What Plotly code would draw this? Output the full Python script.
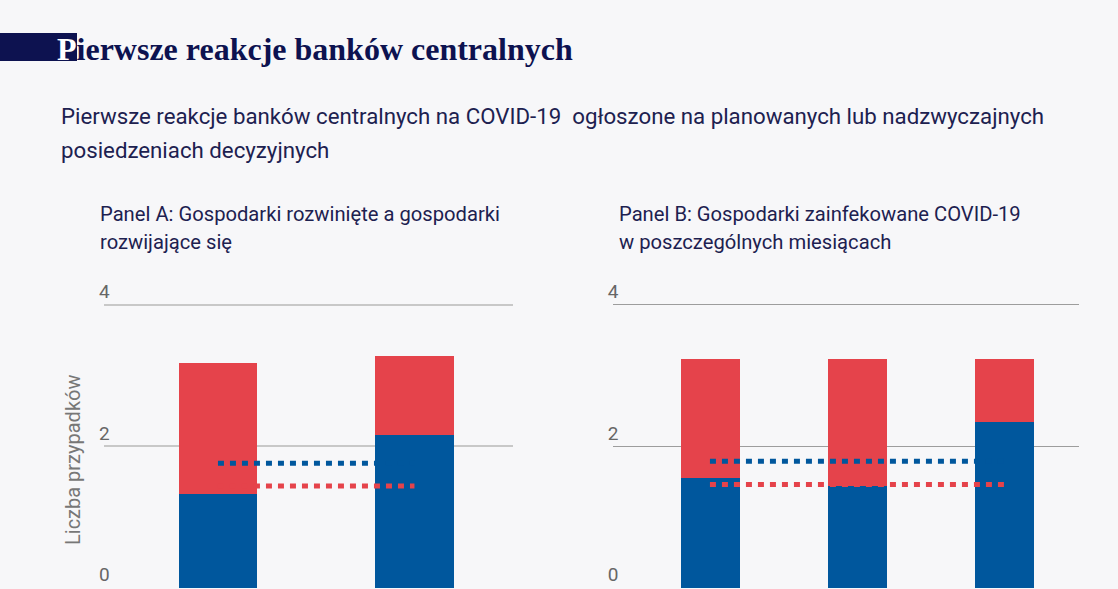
import plotly.graph_objects as go

# ---- data ----
cats_a = ["Gospodarki rozwinięte", "Gospodarki rozwijające się"]
blue_a = [1.33, 2.17]
red_a = [1.85, 1.11]
avg_blue_a = 1.76
avg_red_a = 1.44

cats_b = ["Styczeń", "Luty", "Marzec"]
blue_b = [1.56, 1.44, 2.35]
red_b = [1.68, 1.80, 0.89]
avg_blue_b = 1.79
avg_red_b = 1.46

y_ticks = [0, 2, 4]
y_ticktext = ["0", "2", "4"]

title = "Pierwsze reakcje banków centralnych"
subtitle_1 = "Pierwsze reakcje banków centralnych na COVID-19 \u00a0ogłoszone na planowanych lub nadzwyczajnych"
subtitle_2 = "posiedzeniach decyzyjnych"
panel_a = ["Panel A: Gospodarki rozwinięte a gospodarki", "rozwijające się"]
panel_b = ["Panel B: Gospodarki zainfekowane COVID-19", "w poszczególnych miesiącach"]
y_title = "Liczba przypadków"

# ---- styles ----
W, H = 1118, 589
BG = "#f7f7f9"
BLUE = "#00579d"
RED = "#e5434b"
NAVY = "#0d1250"
TEXT = "#1d2150"
GRAY = "#666666"
FONT = "Roboto"


def px(x):
    return x / W


def py(y):
    return 1 - y / H


fig = go.Figure()

# Panel A
fig.add_trace(go.Bar(x=cats_a, y=blue_a, marker_color=BLUE, width=0.4,
                     marker_line_width=0, xaxis="x", yaxis="y", showlegend=False))
fig.add_trace(go.Bar(x=cats_a, y=red_a, marker_color=RED, width=0.4,
                     marker_line_width=0, xaxis="x", yaxis="y", showlegend=False))
fig.add_trace(go.Scatter(x=[cats_a[0], cats_a[-1]], y=[avg_blue_a] * 2, mode="lines",
                         line=dict(color=BLUE, width=5, dash="6px,6px"),
                         xaxis="x", yaxis="y", showlegend=False))
fig.add_trace(go.Scatter(x=[cats_a[0], cats_a[-1]], y=[avg_red_a] * 2, mode="lines",
                         line=dict(color=RED, width=5, dash="6px,6px"),
                         xaxis="x", yaxis="y", showlegend=False))

# Panel B
fig.add_trace(go.Bar(x=cats_b, y=blue_b, marker_color=BLUE, width=0.4,
                     marker_line_width=0, xaxis="x2", yaxis="y2", showlegend=False))
fig.add_trace(go.Bar(x=cats_b, y=red_b, marker_color=RED, width=0.4,
                     marker_line_width=0, xaxis="x2", yaxis="y2", showlegend=False))
fig.add_trace(go.Scatter(x=[cats_b[0], cats_b[-1]], y=[avg_blue_b] * 2, mode="lines",
                         line=dict(color=BLUE, width=5, dash="6px,6px"),
                         xaxis="x2", yaxis="y2", showlegend=False))
fig.add_trace(go.Scatter(x=[cats_b[0], cats_b[-1]], y=[avg_red_b] * 2, mode="lines",
                         line=dict(color=RED, width=5, dash="6px,6px"),
                         xaxis="x2", yaxis="y2", showlegend=False))

Y_MAX = 4.35
unit = (588 - 304.5) / 4
ydom = [1 - 588 / H, 1 - (588 - Y_MAX * unit) / H]

yax_common = dict(range=[0, Y_MAX], domain=ydom, tickvals=y_ticks, ticktext=y_ticktext,
                  ticklabelposition="inside top", ticklabelstandoff=-8, ticks="",
                  zeroline=False, showline=False,
                  tickfont=dict(family=FONT, size=19, color=GRAY), fixedrange=True)

fig.update_layout(
    width=W, height=H,
    margin=dict(l=0, r=0, t=0, b=0, pad=0),
    paper_bgcolor=BG, plot_bgcolor=BG,
    barmode="stack", bargap=0,
    font=dict(family=FONT, color=TEXT),
    xaxis=dict(domain=[px(104), px(512.7)], range=[-0.58, 1.5], showticklabels=False,
               showgrid=False, zeroline=False, ticks="", anchor="y", fixedrange=True),
    xaxis2=dict(domain=[px(612.7), px(1079)], range=[-0.66, 2.505], showticklabels=False,
                showgrid=False, zeroline=False, ticks="", anchor="y2", fixedrange=True),
    yaxis=dict(**yax_common, anchor="x", gridcolor="#c8c8c8", gridwidth=2),
    yaxis2=dict(**yax_common, anchor="x2", gridcolor="#9d9d9d", gridwidth=1),
)

# title block
fig.add_shape(type="rect", xref="paper", yref="paper", x0=0, x1=px(77), y0=py(61), y1=py(33),
              fillcolor=NAVY, line_width=0, layer="below")

ann = []
ann.append(dict(text="<b><span style='color:#ffffff'>" + title[0] + "</span>" + title[1:] + "</b>",
                x=px(55), y=py(48.6), xanchor="left", yanchor="middle",
                font=dict(family="Liberation Serif", size=32, color=NAVY)))
ann.append(dict(text=subtitle_1, x=px(59), y=py(115.6), xanchor="left", yanchor="middle",
                font=dict(family=FONT, size=22.25, color=TEXT)))
ann.append(dict(text=subtitle_2, x=px(59), y=py(149.6), xanchor="left", yanchor="middle",
                font=dict(family=FONT, size=22.25, color=TEXT)))
for i, line in enumerate(panel_a):
    ann.append(dict(text=line, x=px(98), y=py(214 + 28 * i), xanchor="left", yanchor="middle",
                    font=dict(family=FONT, size=20.2, color=TEXT)))
for i, line in enumerate(panel_b):
    ann.append(dict(text=line, x=px(617), y=py(214 + 28 * i), xanchor="left", yanchor="middle",
                    font=dict(family=FONT, size=20.2, color=TEXT)))
ann.append(dict(text=y_title, x=px(73), y=py(460), xanchor="center", yanchor="middle",
                textangle=-90, font=dict(family=FONT, size=20, color="#777777")))

for a in ann:
    a.update(xref="paper", yref="paper", showarrow=False)
fig.update_layout(annotations=ann)

fig.write_html("out.html", config={"displayModeBar": False},
               post_script="document.body.style.margin='0';document.body.style.overflow='hidden';")
